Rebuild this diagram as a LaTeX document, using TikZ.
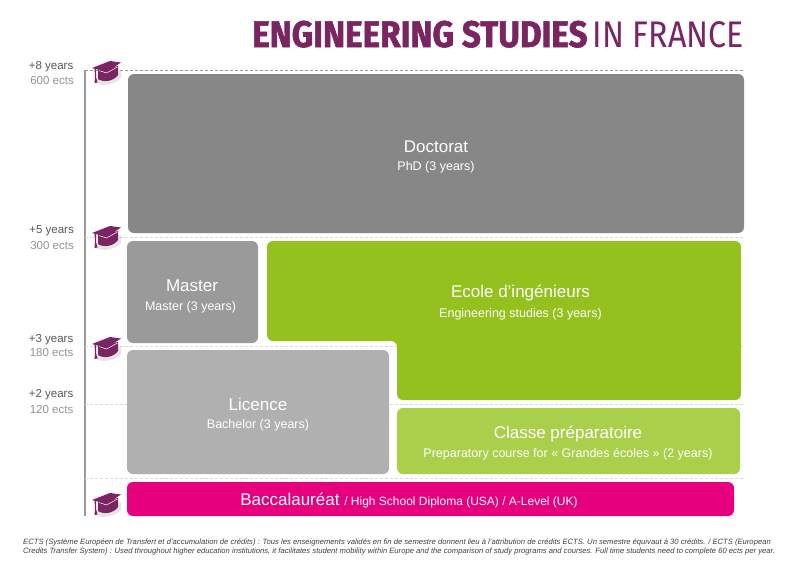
\documentclass[tikz,border=0pt]{standalone}
\usepackage{fontspec}
\setmainfont{Liberation Sans}
\newfontfamily\titlefont[FakeStretch=0.9,FakeBold=1.6]{Fira Sans Bold}
\newfontfamily\titlelight[FakeStretch=0.87]{Fira Sans}
\definecolor{plum}{HTML}{7A2562}
\definecolor{docgray}{HTML}{878787}
\definecolor{mastergray}{HTML}{9A9A9A}
\definecolor{licgray}{HTML}{B0B0B0}
\definecolor{ecolegreen}{HTML}{95C11F}
\definecolor{classegreen}{HTML}{AACF4B}
\definecolor{bacpink}{HTML}{E6007E}
\tikzset{
  x=1pt,y=-1pt,
  box/.style={rounded corners=6pt,inner sep=0pt,draw=none},
  bigtxt/.style={text=white,font=\fontsize{17}{19}\selectfont,inner sep=0pt},
  subtxt/.style={text=white,font=\fontsize{12.5}{14}\selectfont,inner sep=0pt},
  yearlbl/.style={text=black!65,font=\fontsize{11.5}{13}\selectfont,anchor=east,inner sep=0pt},
  ectslbl/.style={text=black!42,font=\fontsize{11.5}{13}\selectfont,anchor=east,inner sep=0pt},
  footlbl/.style={text=black!75,font=\fontsize{7.65}{9}\selectfont\itshape,anchor=west,inner sep=0pt},
  level/.style={densely dashed,black!15,line width=0.8pt},
  hat/.pic={
    \fill[black!40,opacity=.25] (5,13) -- (4,22) .. controls (12,26) and (23,23) .. (29,17) -- (29,9) -- cycle;
    \fill[plum] (6,9) -- (6,18) .. controls (12,22) and (22,20) .. (26,14) -- (26,5) -- cycle;
    \draw[white,line width=.5pt] (7,9.5) -- (14.5,12) -- (25.5,6);
    \fill[plum] (0,7) -- (18,0) -- (29,1.5) -- (14.5,11) -- cycle;
    \fill[plum] (2.5,7) -- (4,7) -- (4,16) -- (5.5,21.5) -- (2.5,22) -- (3,16) -- cycle;
  }
}
\begin{document}
\begin{tikzpicture}
\useasboundingbox (0,0) rectangle (800,565);
\fill[white] (0,0) rectangle (800,565);

% title
\node[anchor=base west,inner sep=0pt,text=plum,font=\fontsize{37}{37}\selectfont\titlefont] (title) at (252,47) {ENGINEERING STUDIES};
\node[anchor=base east,inner sep=0pt,text=plum,font=\fontsize{37}{37}\selectfont\titlelight] (title2) at (744,47) {IN FRANCE};

% axis and level lines
\coordinate (axtop) at (85,70);
\coordinate (axbot) at (85,516);
\draw[black!40,line width=1.1pt] (axtop) -- (axbot);
\draw[densely dashed,black!40,line width=.7pt] (axtop) -- (744,70);
\draw[level] (85,237) -- (744,237);
\draw[level] (85,346.5) -- (744,346.5);
\draw[level] (85,404) -- (744,404);
\draw[level] (85,478) -- (744,478);

% boxes
\node[box,fill=docgray,minimum width=616pt,minimum height=159pt] (doc) at (436,153.5) {};
\node[box,fill=mastergray,minimum width=131pt,minimum height=102pt] (mas) at (192.5,292) {};
\node[box,fill=licgray,minimum width=262pt,minimum height=124pt] (lic) at (258,412) {};
\node[box,fill=classegreen,minimum width=343pt,minimum height=66pt] (cla) at (568.5,441) {};
\node[box,fill=bacpink,minimum width=607pt,minimum height=34pt] (bac) at (430.5,499) {};
\fill[ecolegreen,rounded corners=6pt] (267,241) -- (741,241) -- (741,400) -- (397,400) -- (397,341) -- (267,341) -- cycle;

% box texts
\node[bigtxt] (t1) at (436,146.5) {Doctorat};
\node[subtxt] (t2) at (436,167) {PhD (3 years)};
\node[bigtxt] (t3) at (192,286) {Master};
\node[subtxt] (t4) at (190.5,307.5) {Master (3 years)};
\node[bigtxt] (t5) at (520.5,292.5) {Ecole d’ingénieurs};
\node[subtxt] (t6) at (520.5,314) {Engineering studies (3 years)};
\node[bigtxt] (t7) at (258,404) {Licence};
\node[subtxt] (t8) at (258,425.5) {Bachelor (3 years)};
\node[bigtxt] (t9) at (568,434) {Classe préparatoire};
\node[subtxt] (t10) at (568,454.5) {Preparatory course for « Grandes écoles » (2 years)};
\node[bigtxt,anchor=base] (t11) at (409,505) {Baccalauréat {\fontsize{12}{14}\selectfont / High School Diploma (USA) / A-Level (UK)}};

% axis labels
\node[yearlbl] (y8) at (73.5,66.5) {+8 years};
\node[ectslbl] (e8) at (74,81) {600 ects};
\node[yearlbl] (y5) at (74,231) {+5 years};
\node[ectslbl] (e5) at (74,245.5) {300 ects};
\node[yearlbl] (y3) at (73.5,340) {+3 years};
\node[ectslbl] (e3) at (73.5,353) {180 ects};
\node[yearlbl] (y2) at (73.5,395) {+2 years};
\node[ectslbl] (e2) at (73.5,410) {120 ects};

% hats
\pic at (92,61) {hat};
\pic at (92,226) {hat};
\pic at (92,337) {hat};
\pic at (92,493) {hat};

% footnote
\node[footlbl] (f1) at (23,542) {ECTS (Système Européen de Transfert et d’accumulation de crédits) : Tous les enseignements validés en fin de semestre donnent lieu à l’attribution de crédits ECTS. Un semestre équivaut à 30 crédits. / ECTS (European};
\node[footlbl] (f2) at (23,552) {Credits Transfer System) : Used throughout higher education institutions, it facilitates student mobility within Europe and the comparison of study programs and courses. Full time students need to complete 60 ects per year.};
\end{tikzpicture}
\end{document}
